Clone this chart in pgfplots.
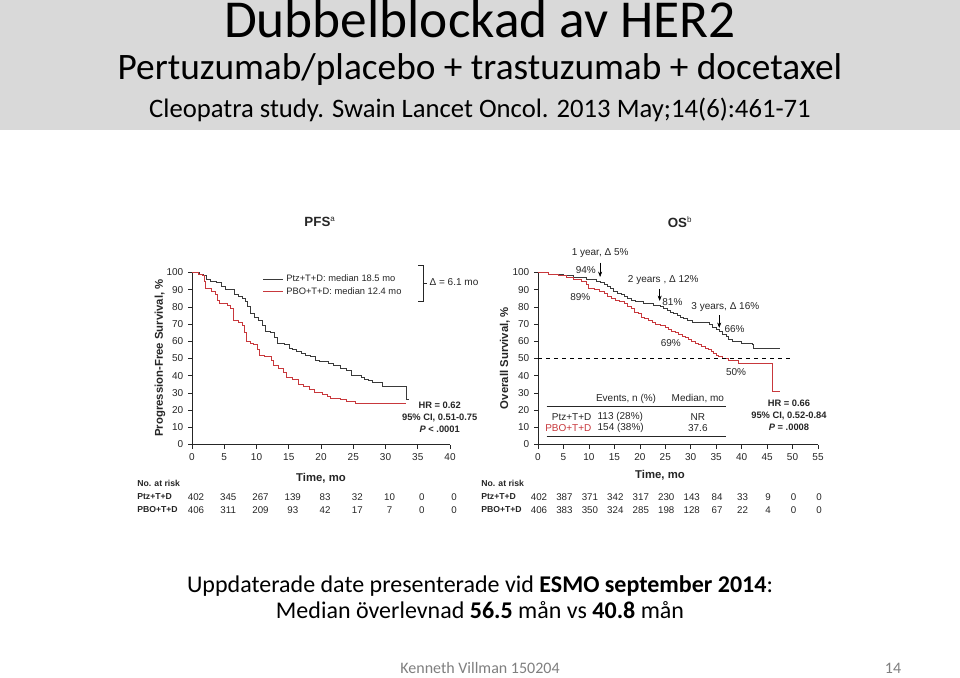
\documentclass[border=0pt]{standalone}
\usepackage{pgfplots}
\pgfplotsset{compat=1.18}
\usepackage{fontspec}
\setmainfont{Carlito}
\newfontfamily\chartfont{Liberation Sans}
\usetikzlibrary{arrows.meta}
\definecolor{band}{HTML}{D9D9D9}
\definecolor{ptz}{HTML}{3A3A3A}
\definecolor{pbo}{HTML}{C8383C}
\definecolor{foot}{HTML}{7F7F7F}

% PFS curves (months, % event free)
\pgfplotstableread{
t v
0 100
1.2 99
1.8 98
2.3 96
2.8 95
3.8 94
4.5 92
5.2 90
6.6 87
7.2 86
7.8 85
8.3 83
8.6 80
9.0 76
9.7 74
10.3 72
10.9 69
11.4 66
12.2 65
12.8 62
13.3 59
14.4 58
15.1 56
15.6 55
16.2 54
17.0 53
17.6 52
18.3 51
19.1 49
19.8 48
21.2 47
22.0 46
23.0 44
24.0 43
24.8 40
26.2 39
26.7 38
27.4 37
28.0 36
29.6 34
33.3 26
33.6 26
}\pfsptz
\pgfplotstableread{
t v
0 100
1.0 99
1.6 98
2.0 95
2.1 91
3.0 89
3.6 87
4.0 84
4.2 82
5.5 81
6.0 79
6.4 72
7.2 71
7.9 69
8.2 65
8.4 60
9.0 59
9.6 58
10.2 55
10.5 52
11.3 51
12.3 49
12.6 46
13.4 44
14.2 42
14.7 39
15.6 38
16.5 35
17.3 34
18.2 32
19.0 30
20.2 29
21.0 28
21.5 27
23.0 26
24.0 25
25.3 24
33.2 24
}\pfspbo
% OS curves
\pgfplotstableread{
t v
0 100
2 99
5 98
7 97
9.5 96
11.5 95
12.3 94
13 93
13.6 92
14.2 91
14.8 89
15.6 88
16.4 87
17.0 86
17.6 85
18.4 84
19.2 83
20.8 82
22.6 81
24.0 80
24.6 79
25.4 78
26.0 77
26.6 76
27.4 75
28.0 74
28.6 73
29.4 72
30.4 71
33.6 70
34.2 68
35.0 67
35.6 66
36.2 64
37.0 63
37.4 61
38.2 60
40.0 59
42.2 58
42.4 56
47.5 56
}\osptz
\pgfplotstableread{
t v
0 100
2 99
4 98
5.5 97
7 96
8.5 95
9.6 93
10 91
11 90
12 89
13 88
13.6 86
14.4 85
15.2 84
16.0 83
17.0 82
17.6 80
18.4 79
19.0 77
19.8 76
20.4 74
21.0 73
21.6 72
22.4 71
23.0 70
24.0 69
25.0 68
25.6 67
26.2 66
27.0 65
27.6 64
28.4 63
29.0 62
29.6 61
30.2 60
31.0 59
31.6 58
32.2 57
32.8 56
33.4 55
34.0 54
34.4 53
35.0 52
35.4 51
36.2 50
37.4 49
39.4 47
46.0 31
47.5 31
}\ospbo

\pgfplotsset{kmstyle/.style={
  scale only axis, axis lines=left, axis line style={-, thin, black!85},
  tick align=outside, major tick length=3pt, tick style={black!85, thin},
  ymin=0, ymax=100, ytick={0,10,...,100}, height=129pt,
  tick label style={font=\chartfont\fontsize{7.5}{8}\selectfont, text=black!85},
  /pgf/number format/assume math mode=true,
  clip=false,
}}
\tikzset{
  sm/.style={font=\chartfont\fontsize{7.5}{9}\selectfont, text=black!85, inner sep=1pt},
  lab/.style={font=\chartfont\bfseries\fontsize{8.5}{10}\selectfont, text=black!85},
  risk/.style={font=\chartfont\fontsize{7.3}{8}\selectfont, text=black!85, inner sep=0pt},
  rlab/.style={font=\chartfont\bfseries\fontsize{6.5}{8}\selectfont, text=black!85, inner sep=0pt, anchor=west},
}

\begin{document}
\begin{tikzpicture}
\begin{scope}[x=0.75pt,y=-0.75pt]
\useasboundingbox (0,0) rectangle (960,676);
\fill[white] (0,0) rectangle (960,676);
\fill[band] (0,0) rectangle (960,130);
\node[anchor=base, font=\fontsize{40}{44}\selectfont] at (480,38) {Dubbelblockad av HER2};
\node[anchor=base, font=\fontsize{28}{32}\selectfont] at (480,80) {Pertuzumab/placebo + trastuzumab + docetaxel};
\node[anchor=base, font=\fontsize{20}{24}\selectfont] at (480,118) {Cleopatra study. Swain Lancet Oncol. 2013 May;14(6):461-71};
\end{scope}

% PFS panel
\begin{axis}[kmstyle, at={(144pt,-333.375pt)}, anchor=south west, width=193.5pt,
  xmin=0, xmax=40, xtick={0,5,...,40},
  legend style={at={(axis cs:10.3,102)}, anchor=north west, draw=none, fill=none,
    font=\chartfont\fontsize{7}{8}\selectfont, text=black!85, row sep=-1pt},
  legend cell align=left,
  legend image code/.code={\draw[#1] (0pt,0pt) -- (15pt,0pt);}]
\addplot[const plot, ptz, line width=0.7pt] table[x=t, y=v] {\pfsptz};
\addplot[const plot, pbo, line width=0.7pt] table[x=t, y=v] {\pfspbo};
\legend{Ptz+T+D: median 18.5 mo, PBO+T+D: median 12.4 mo}
\draw[black!85, thin] (axis cs:35.1,104) -- (axis cs:35.8,104) -- (axis cs:35.8,83.5) -- (axis cs:35.1,83.5);
\draw[black!85, thin] (axis cs:35.8,94) -- (axis cs:36.4,94);
\node[sm, anchor=west] at (axis cs:36.6,94.5) {Δ = 6.1 mo};
\node[sm, align=center, font=\chartfont\bfseries\fontsize{7}{9}\selectfont] at (axis cs:38.4,16) {HR = 0.62\\95\% CI, 0.51-0.75\\\textit{P} < .0001};
\end{axis}

% OS panel
\begin{axis}[kmstyle, at={(403.5pt,-333.375pt)}, anchor=south west, width=210pt,
  xmin=0, xmax=55, xtick={0,5,...,55}]
\addplot[const plot, ptz, line width=0.7pt] table[x=t, y=v] {\osptz};
\addplot[const plot, pbo, line width=0.7pt] table[x=t, y=v] {\ospbo};
\addplot[dashed, black, thin] coordinates {(0,50) (50,50)};
\node[sm] at (axis cs:12.2,111.3) {1 year, Δ 5\%};
\draw[-{Stealth[length=4pt,width=3pt]}, black, thin] (axis cs:12.2,105.8) -- (axis cs:12.2,97.4);
\node[sm] at (axis cs:9.4,101.5) {94\%};
\node[sm] at (axis cs:8.3,86) {89\%};
\node[sm] at (axis cs:24.6,95.6) {2 years , Δ 12\%};
\draw[-{Stealth[length=4pt,width=3pt]}, black, thin] (axis cs:23.9,90.5) -- (axis cs:23.9,83.5);
\node[sm] at (axis cs:26.4,83.1) {81\%};
\node[sm] at (axis cs:36.8,80.2) {3 years, Δ 16\%};
\draw[-{Stealth[length=4pt,width=3pt]}, black, thin] (axis cs:35.6,75.2) -- (axis cs:35.6,67.8);
\node[sm] at (axis cs:38.6,67.2) {66\%};
\node[sm] at (axis cs:26.1,59) {69\%};
\node[sm] at (axis cs:38.9,42.3) {50\%};
% events table
\node[sm] at (axis cs:17.3,26.7) {Events, n (\%)};
\node[sm] at (axis cs:31.4,26.7) {Median, mo};
\draw[black!85, thin] (axis cs:1.7,22.2) -- (axis cs:37,22.2);
\draw[black!85, thin] (axis cs:1.7,4.5) -- (axis cs:37,4.5);
\node[sm, anchor=east] at (axis cs:10.8,16) {Ptz+T+D};
\node[sm, anchor=east, text=pbo] at (axis cs:10.8,9.8) {PBO+T+D};
\node[sm, anchor=west] at (axis cs:11.4,16) {113 (28\%)};
\node[sm, anchor=west] at (axis cs:11.4,9.8) {154 (38\%)};
\node[sm] at (axis cs:31.4,16) {NR};
\node[sm] at (axis cs:31.4,9.8) {37.6};
\node[sm, align=center, font=\chartfont\bfseries\fontsize{7}{9}\selectfont] at (axis cs:49.3,17) {HR = 0.66\\95\% CI, 0.52-0.84\\\textit{P} = .0008};
\end{axis}

\begin{scope}[x=0.75pt,y=-0.75pt]
% titles and axis labels
\node[lab, font=\chartfont\bfseries\fontsize{10}{12}\selectfont] at (320,222) {PFS\textsuperscript{\fontsize{6}{6}\selectfont\mdseries a}};
\node[lab, font=\chartfont\bfseries\fontsize{10}{12}\selectfont] at (680,222) {OS\textsuperscript{\fontsize{6}{6}\selectfont\mdseries b}};
\node[lab, rotate=90] at (160,358) {Progression-Free Survival, \%};
\node[lab, rotate=90] at (505,358) {Overall Survival, \%};
\node[lab] at (321,478) {Time, mo};
\node[lab] at (660,475) {Time, mo};

% numbers at risk
\node[rlab] at (137,483) {No. at risk};
\node[rlab] at (137,497) {Ptz+T+D};
\node[rlab] at (137,510) {PBO+T+D};
\foreach \v [count=\i from 0] in {402,345,267,139,83,32,10,0,0}
  \node[risk] at ({196+32.25*\i},497) {\v};
\foreach \v [count=\i from 0] in {406,311,209,93,42,17,7,0,0}
  \node[risk] at ({196+32.25*\i},510) {\v};
\node[rlab] at (481,483) {No. at risk};
\node[rlab] at (481,497) {Ptz+T+D};
\node[rlab] at (481,510) {PBO+T+D};
\foreach \v [count=\i from 0] in {402,387,371,342,317,230,143,84,33,9,0,0}
  \node[risk] at ({539+25.45*\i},497) {\v};
\foreach \v [count=\i from 0] in {406,383,350,324,285,198,128,67,22,4,0,0}
  \node[risk] at ({539+25.45*\i},510) {\v};

% bottom text
\node[anchor=base, font=\fontsize{18}{22}\selectfont] at (480,592) {Uppdaterade date presenterade vid \textbf{ESMO september 2014}:};
\node[anchor=base, font=\fontsize{18}{22}\selectfont] at (480,618) {Median överlevnad \textbf{56.5} mån vs \textbf{40.8} mån};
\node[anchor=base, font=\fontsize{12}{14}\selectfont, text=foot] at (480,673) {Kenneth Villman 150204};
\node[anchor=base, font=\fontsize{12}{14}\selectfont, text=foot] at (893,673) {14};
\end{scope}
\end{tikzpicture}
\end{document}
